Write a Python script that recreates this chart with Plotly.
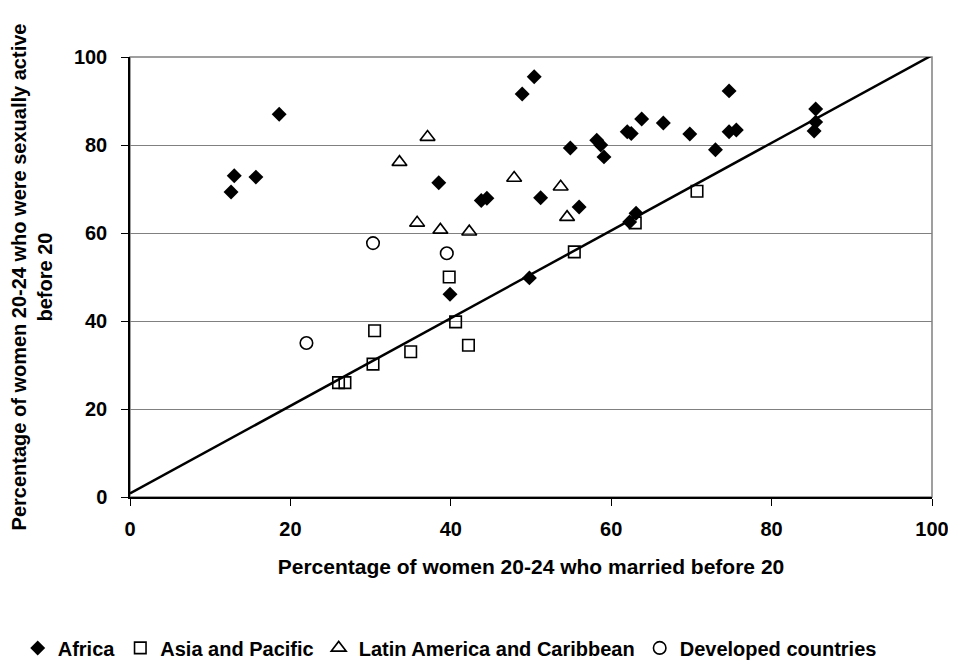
import plotly.graph_objects as go

# Data
africa_x = [18.6, 13.0, 15.7, 12.6, 50.4, 48.9, 63.8, 66.5, 62.0, 62.5, 54.9, 58.2, 58.7, 59.1,
            38.5, 43.8, 44.5, 51.2, 56.0, 63.1, 62.3, 49.8, 39.9, 74.7, 69.8, 74.7, 75.6, 73.0,
            85.5, 85.5, 85.3]
africa_y = [87.0, 73.0, 72.7, 69.3, 95.5, 91.6, 85.9, 85.0, 83.0, 82.6, 79.3, 81.1, 80.0, 77.3,
            71.4, 67.4, 67.9, 68.0, 65.9, 64.5, 62.5, 49.8, 46.1, 92.3, 82.5, 83.0, 83.4, 78.9,
            88.2, 85.2, 83.2]

asia_x = [26.0, 26.8, 30.3, 30.5, 35.0, 40.6, 42.2, 39.8, 55.4, 63.0, 70.7]
asia_y = [26.0, 26.0, 30.2, 37.8, 33.0, 39.8, 34.5, 50.0, 55.7, 62.3, 69.5]

latin_x = [33.6, 37.1, 35.8, 38.7, 42.3, 47.9, 53.7, 54.5]
latin_y = [76.1, 81.8, 62.3, 60.7, 60.3, 72.5, 70.5, 63.6]

developed_x = [22.0, 30.3, 39.5]
developed_y = [35.0, 57.7, 55.4]

trend_x = [0, 100]
trend_y = [0.8, 100.4]

x_title = "Percentage of women 20-24 who married before 20"
y_title = "Percentage of women 20-24 who were sexually active<br>before 20"
tick_vals = [0, 20, 40, 60, 80, 100]

FONT = "Liberation Sans, Arial, sans-serif"
FS = 20

fig = go.Figure()
fig.add_trace(go.Scatter(x=trend_x, y=trend_y, mode="lines",
                         line=dict(color="black", width=2.5), showlegend=False,
                         hoverinfo="skip"))
fig.add_trace(go.Scatter(x=africa_x, y=africa_y, mode="markers", name="Africa",
                         marker=dict(symbol="diamond", size=11.5, color="black",
                                     line=dict(width=0))))
fig.add_trace(go.Scatter(x=asia_x, y=asia_y, mode="markers", name="Asia and Pacific",
                         marker=dict(symbol="square-open", size=11.5, color="black",
                                     line=dict(width=1.6))))
fig.add_trace(go.Scatter(x=latin_x, y=latin_y, mode="markers",
                         name="Latin America and Caribbean",
                         marker=dict(symbol="triangle-up-open", size=13, color="black",
                                     line=dict(width=1.6))))
fig.add_trace(go.Scatter(x=developed_x, y=developed_y, mode="markers",
                         name="Developed countries",
                         marker=dict(symbol="circle-open", size=12.5, color="black",
                                     line=dict(width=1.6))))

fig.update_layout(
    width=948, height=659,
    margin=dict(l=122, r=24, t=49, b=170, autoexpand=False),
    paper_bgcolor="white", plot_bgcolor="white",
    font=dict(family=FONT, size=FS, color="black"),
    legend=dict(orientation="h", x=-0.14, xanchor="left", xref="paper",
                y=-0.343, yanchor="middle", yref="paper", itemwidth=30,
                font=dict(family=FONT, size=FS, color="black", weight="bold")),
    shapes=[dict(type="rect", xref="x domain", yref="y domain", x0=0, x1=1, y0=0, y1=1,
                 line=dict(color="#808080", width=1.5), layer="below")],
)
fig.update_xaxes(range=[0, 100], tickvals=tick_vals, showgrid=False, zeroline=False,
                 showline=True, linecolor="black", linewidth=1.5,
                 ticks="outside", ticklen=7, tickcolor="black", tickwidth=1,
                 ticklabelstandoff=6,
                 tickfont=dict(family=FONT, size=FS, weight="bold"),
                 title=dict(text=x_title, standoff=21,
                            font=dict(family=FONT, size=21, weight="bold")))
fig.update_yaxes(range=[0, 100], tickvals=tick_vals, showgrid=True, gridcolor="#808080",
                 gridwidth=1, zeroline=False,
                 showline=True, linecolor="black", linewidth=1.5,
                 ticks="outside", ticklen=7, tickcolor="black", tickwidth=1,
                 ticklabelstandoff=10,
                 tickfont=dict(family=FONT, size=FS, weight="bold"),
                 title=dict(text=y_title, standoff=20,
                            font=dict(family=FONT, size=FS, weight="bold")))

fig.write_html("out.html")
